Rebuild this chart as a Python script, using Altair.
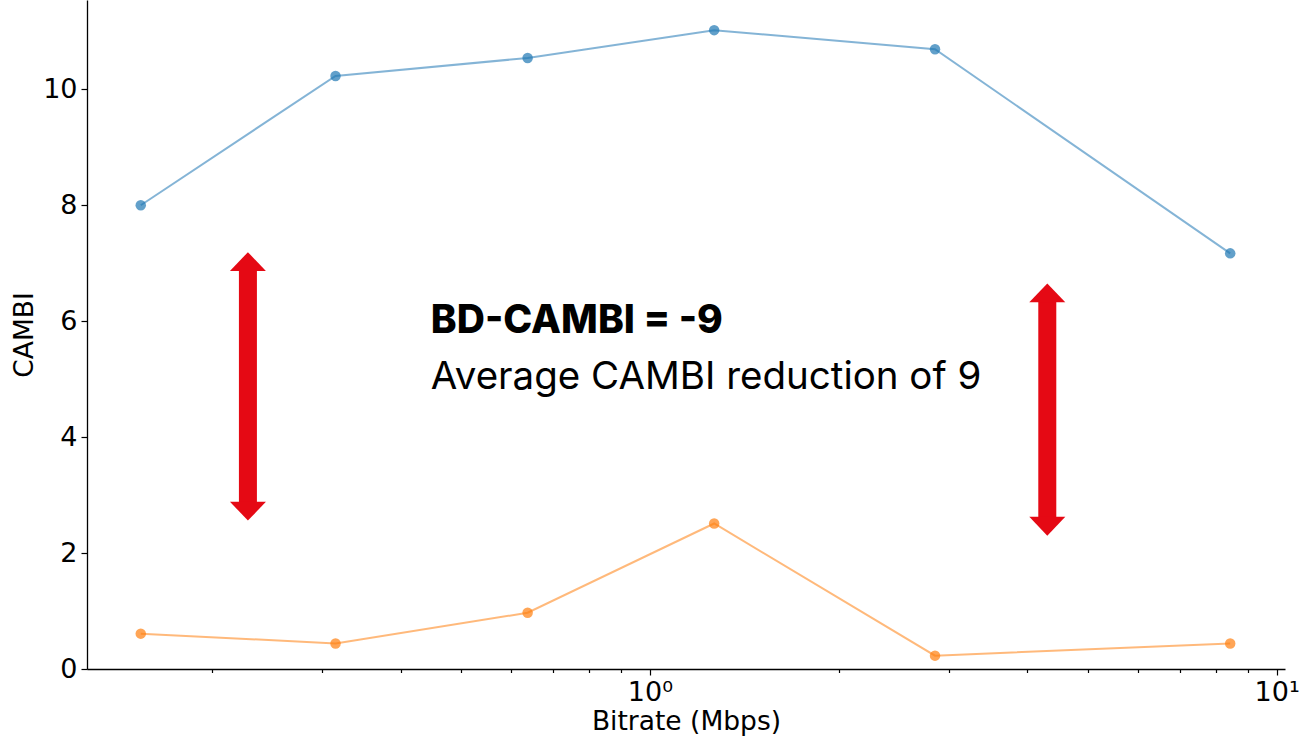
import altair as alt
import pandas as pd

# ---- data ----
bitrate = [0.154, 0.315, 0.638, 1.266, 2.85, 8.43]
cambi_before = [8.00, 10.23, 10.54, 11.02, 10.69, 7.17]
cambi_after = [0.61, 0.44, 0.97, 2.51, 0.23, 0.44]
series_names = ["Before", "After"]
series_colors = ["#1f77b4", "#ff7f0e"]

x_tick_values = [0.2, 0.3, 0.4, 0.5, 0.6, 0.7, 0.8, 0.9, 1, 2, 3, 4, 5, 6, 7, 8, 9, 10]
y_tick_values = [0, 2, 4, 6, 8, 10]

arrow_x = [0.2283, 4.305]
arrow_head_top = [6.88, 6.34]
arrow_head_bottom = [2.87, 2.61]

text_x = [0.447]
headline = ["BD-CAMBI = -9"]
headline_y = [5.79]
subline = ["Average CAMBI reduction of 9"]
subline_y = [4.83]

RED = "#E50914"

# ---- tables ----
series_df = pd.DataFrame({
    "bitrate": bitrate * 2,
    "cambi": cambi_before + cambi_after,
    "series": [series_names[0]] * len(bitrate) + [series_names[1]] * len(bitrate),
})
arrow_df = pd.DataFrame({"ax": arrow_x, "top": arrow_head_top, "bottom": arrow_head_bottom})
head_df = pd.DataFrame({"hx": text_x, "hy": headline_y, "t": headline})
sub_df = pd.DataFrame({"hx": text_x, "hy": subline_y, "t": subline})

xscale = alt.Scale(type="log", domain=[0.1264, 10.31], nice=False)
yscale = alt.Scale(domain=[0, 11.54], nice=False, zero=False)

xaxis = alt.Axis(
    values=x_tick_values,
    labelExpr="datum.value == 1 ? '10⁰' : (datum.value == 10 ? '10¹' : '')",
    tickSize={"condition": {"test": "datum.value == 1 || datum.value == 10", "value": 6}, "value": 3.5},
    labelPadding=4,
    titlePadding=3,
    labelFlush=False,
    labelOverlap=False,
)
yaxis = alt.Axis(values=y_tick_values, tickSize=6, labelPadding=4, titlePadding=4)

XT = "Bitrate (Mbps)"
YT = "CAMBI"


def X(f):
    return alt.X(f, type="quantitative", scale=xscale, axis=xaxis, title=XT)


def Y(f):
    return alt.Y(f, type="quantitative", scale=yscale, axis=yaxis, title=YT)


color = alt.Color("series:N", scale=alt.Scale(domain=series_names, range=series_colors), legend=None)

lines = alt.Chart(series_df).mark_line(strokeWidth=2, opacity=0.55).encode(
    x=X("bitrate"), y=Y("cambi"), color=color, detail="series:N"
)
points = alt.Chart(series_df).mark_point(filled=True, size=110, opacity=0.7).encode(
    x=X("bitrate"), y=Y("cambi"), color=color
)

shafts = alt.Chart(arrow_df).mark_rule(strokeWidth=18, color=RED, strokeCap="butt").encode(
    x=X("ax"), y=Y("top"), y2="bottom"
)
heads_up = alt.Chart(arrow_df).mark_point(
    shape="M-1,0.05L1,0.05L0,-1Z", filled=True, size=1296, color=RED, opacity=1, strokeWidth=0
).encode(x=X("ax"), y=Y("top"))
heads_down = alt.Chart(arrow_df).mark_point(
    shape="M-1,-0.05L1,-0.05L0,1Z", filled=True, size=1296, color=RED, opacity=1, strokeWidth=0
).encode(x=X("ax"), y=Y("bottom"))

head_text = alt.Chart(head_df).mark_text(
    align="left", baseline="alphabetic", font="Inter", fontSize=39, fontWeight=800, color="black"
).encode(x=X("hx"), y=Y("hy"), text="t:N")
sub_text = alt.Chart(sub_df).mark_text(
    align="left", baseline="alphabetic", font="Inter", fontSize=38.5, fontWeight="normal", color="black"
).encode(x=X("hx"), y=Y("hy"), text="t:N")

chart = alt.layer(lines, points, shafts, heads_up, heads_down, head_text, sub_text).properties(
    width=1198,
    height=669,
    autosize=alt.AutoSizeParams(type="none"),
    padding={"left": 87, "top": 0, "right": 14, "bottom": 74},
    background="white",
).configure_view(stroke=None).configure_axis(
    grid=False,
    domainColor="black",
    domainWidth=1.3,
    tickColor="black",
    tickWidth=1.2,
    labelColor="black",
    titleColor="black",
    labelFont="DejaVu Sans",
    titleFont="DejaVu Sans",
    labelFontSize=27,
    titleFontSize=26.5,
    titleFontWeight="normal",
)

chart.save("out.html", embed_options={"renderer": "svg", "actions": False})
